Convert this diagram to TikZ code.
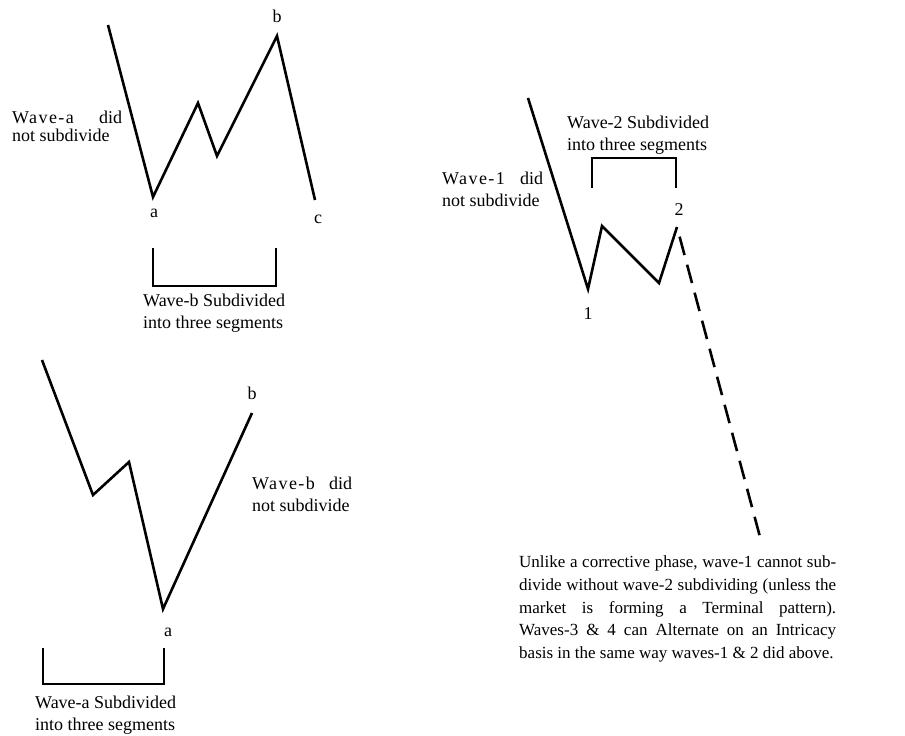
\documentclass[tikz,border=0pt]{standalone}
\usepackage{fontspec}
\setmainfont{Liberation Serif}
\newfontfamily\spacedfont[LetterSpace=8]{Liberation Serif}
\begin{document}
\begin{tikzpicture}[x=1pt,y=-1pt,
  wave/.style={line width=2.6pt,line join=miter},
  brack/.style={line width=2pt,line join=miter},
  dashwave/.style={line width=2.6pt,dash pattern=on 19pt off 10pt,dash phase=19pt},
  lbl/.style={inner sep=0pt,font=\fontsize{18}{22}\selectfont},
  para/.style={inner sep=0pt,font=\fontsize{17}{22.8}\selectfont,text width=317pt,align=justify,anchor=north west}]
\useasboundingbox (0,0) rectangle (905,736);
% ---------- top-left
\coordinate (A0) at (108,25);
\coordinate (A1) at (153,197);
\coordinate (A2) at (198,103);
\coordinate (A3) at (217,156);
\coordinate (A4) at (277,36);
\coordinate (A5) at (315,200);
\draw[wave] (A0) -- (A1) -- (A2) -- (A3) -- (A4) -- (A5);
\node[lbl,anchor=base] (Alb) at (277,23) {b};
\node[lbl,anchor=base] (Ala) at (154,217) {a};
\node[lbl,anchor=base] (Alc) at (318,223) {c};
\node[lbl,anchor=base west] (At1) at (12,123) {\hbox to 110pt{{\spacedfont Wave-a}\hfill did}};
\node[lbl,anchor=base west] (At2) at (12,141) {not subdivide};
\coordinate (AB1) at (153,248);
\coordinate (AB2) at (153,286);
\coordinate (AB3) at (276,286);
\coordinate (AB4) at (276,248);
\draw[brack] (AB1) -- (AB2) -- (AB3) -- (AB4);
\node[lbl,anchor=base west] (At3) at (143,306) {Wave-b Subdivided};
\node[lbl,anchor=base west] (At4) at (143,328) {into three segments};
% ---------- right
\coordinate (R0) at (528,98);
\coordinate (R1) at (588,289);
\coordinate (R2) at (602,226);
\coordinate (R3) at (659,283);
\coordinate (R4) at (677,227);
\coordinate (R5) at (760,537);
\draw[wave] (R0) -- (R1) -- (R2) -- (R3) -- (R4);
\draw[dashwave] (R4) -- (R5);
\node[lbl,anchor=base] (Rl1) at (588,319) {1};
\node[lbl,anchor=base] (Rl2) at (679,215) {2};
\node[lbl,anchor=base west] (Rt1) at (567,128) {Wave-2 Subdivided};
\node[lbl,anchor=base west] (Rt2) at (567,150) {into three segments};
\node[lbl,anchor=base west] (Rt3) at (442,184) {\hbox to 101pt{{\spacedfont Wave-1}\hfill did}};
\node[lbl,anchor=base west] (Rt4) at (442,206) {not subdivide};
\coordinate (RB1) at (592,188);
\coordinate (RB2) at (592,158);
\coordinate (RB3) at (676,158);
\coordinate (RB4) at (676,188);
\draw[brack] (RB1) -- (RB2) -- (RB3) -- (RB4);
\node[para] (Rp) at (519,555.5) {Unlike a corrective phase, wave-1 cannot sub-\linebreak divide without wave-2 subdividing (unless the\linebreak market is forming a Terminal pattern).\linebreak Waves-3 \& 4 can Alternate on an Intricacy\linebreak basis in the same way waves-1 \& 2 did above.};
% ---------- bottom-left
\coordinate (B0) at (42,360);
\coordinate (B1) at (93,495);
\coordinate (B2) at (129,462);
\coordinate (B3) at (163,609);
\coordinate (B4) at (252,413);
\draw[wave] (B0) -- (B1) -- (B2) -- (B3) -- (B4);
\node[lbl,anchor=base] (Blb) at (252,399) {b};
\node[lbl,anchor=base] (Bla) at (168,636) {a};
\node[lbl,anchor=base west] (Bt1) at (252,489) {\hbox to 100pt{{\spacedfont Wave-b}\hfill did}};
\node[lbl,anchor=base west] (Bt2) at (252,511) {not subdivide};
\coordinate (BB1) at (43,648);
\coordinate (BB2) at (43,684);
\coordinate (BB3) at (164,684);
\coordinate (BB4) at (164,648);
\draw[brack] (BB1) -- (BB2) -- (BB3) -- (BB4);
\node[lbl,anchor=base west] (Bt3) at (35,708) {Wave-a Subdivided};
\node[lbl,anchor=base west] (Bt4) at (35,730) {into three segments};
\end{tikzpicture}
\end{document}
